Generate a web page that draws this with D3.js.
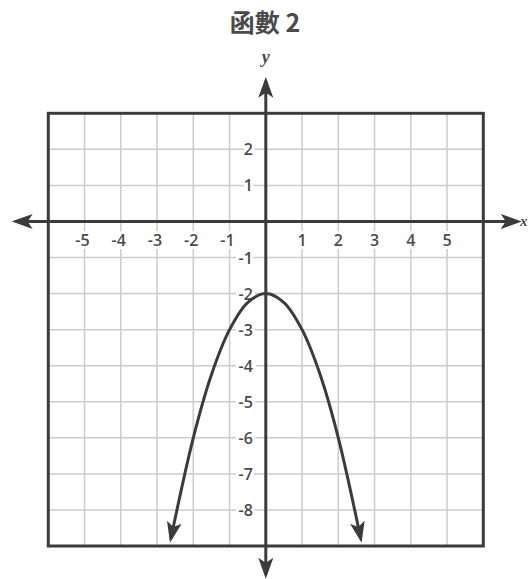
<!DOCTYPE html>
<html>
<head>
<meta charset="utf-8">
<script src="https://cdn.jsdelivr.net/npm/d3@7"></script>
<style>
  body { margin: 0; background: #fff; }
  svg { display: block; }
</style>
</head>
<body>
<svg width="530" height="579"></svg>
<script>
// values
var title = "函數 2";
var xDomain = [-6, 6];
var yDomain = [3, -9];
var xTicks = [-5, -4, -3, -2, -1, 1, 2, 3, 4, 5];
var yTicks = [2, 1, -1, -2, -3, -4, -5, -6, -7, -8];
var xAxisEnds = [-6.9, 6.95];
var yAxisEnds = [3.9, -9.8];
var curveX = [-2.62, -2, -1.5, -1, -0.5, 0, 0.5, 1, 1.5, 2, 2.62];
var curveY = [-8.8, -6, -4.25, -3, -2.25, -2, -2.25, -3, -4.25, -6, -8.8];

var ink = "#3b3b3b",
    gridColor = "#cbcbcb",
    textColor = "#4a4a4a";

var svg = d3.select("svg");

var x = d3.scaleLinear().domain(xDomain).range([48.3, 483.3]);
var y = d3.scaleLinear().domain(yDomain).range([113.3, 546]);

// arrowhead
var defs = svg.append("defs");
defs.append("marker")
    .attr("id", "arrow")
    .attr("markerUnits", "userSpaceOnUse")
    .attr("viewBox", "0 -8 21 16")
    .attr("markerWidth", 21)
    .attr("markerHeight", 16)
    .attr("refX", 17)
    .attr("refY", 0)
    .attr("orient", "auto-start-reverse")
  .append("path")
    .attr("d", "M0,-7.5L21,0L0,7.5L5,0Z")
    .attr("fill", ink);

svg.append("text")
    .attr("x", 265)
    .attr("y", 32)
    .attr("text-anchor", "middle")
    .attr("font-family", "'Noto Sans CJK TC', 'Noto Sans', sans-serif")
    .attr("font-weight", "bold")
    .attr("font-size", 25)
    .attr("fill", textColor)
    .text(title);

// grid
var grid = svg.append("g").attr("stroke", gridColor).attr("stroke-width", 1.5);
grid.selectAll(".gx")
    .data(x.ticks(12).filter(function(d) { return d > xDomain[0] && d < xDomain[1]; }))
    .enter().append("line")
    .attr("x1", function(d) { return x(d); })
    .attr("x2", function(d) { return x(d); })
    .attr("y1", y(yDomain[0]))
    .attr("y2", y(yDomain[1]));
grid.selectAll(".gy")
    .data(y.ticks(12).filter(function(d) { return d < yDomain[0] && d > yDomain[1]; }))
    .enter().append("line")
    .attr("y1", function(d) { return y(d); })
    .attr("y2", function(d) { return y(d); })
    .attr("x1", x(xDomain[0]))
    .attr("x2", x(xDomain[1]));

// tick labels
var labelFont = "'Open Sans', 'Noto Sans', sans-serif";
svg.append("g").selectAll("text")
    .data(xTicks)
    .enter().append("text")
    .attr("x", function(d) { return d < 0 ? x(d) + 5 : x(d); })
    .attr("y", y(0) + 25)
    .attr("text-anchor", function(d) { return d < 0 ? "end" : "middle"; })
    .attr("font-family", labelFont)
    .attr("font-weight", 600)
    .attr("font-size", 16)
    .attr("fill", textColor)
    .attr("stroke", "#fff")
    .attr("stroke-width", 6)
    .attr("paint-order", "stroke")
    .text(function(d) { return d; });

svg.append("g").selectAll("text")
    .data(yTicks)
    .enter().append("text")
    .attr("x", x(0) - 13)
    .attr("y", function(d) { return y(d) + 6; })
    .attr("text-anchor", "end")
    .attr("font-family", labelFont)
    .attr("font-weight", 600)
    .attr("font-size", 16)
    .attr("fill", textColor)
    .attr("stroke", "#fff")
    .attr("stroke-width", 6)
    .attr("paint-order", "stroke")
    .text(function(d) { return d; });

// frame
svg.append("rect")
    .attr("x", x(xDomain[0]))
    .attr("y", y(yDomain[0]))
    .attr("width", x(xDomain[1]) - x(xDomain[0]))
    .attr("height", y(yDomain[1]) - y(yDomain[0]))
    .attr("fill", "none")
    .attr("stroke", ink)
    .attr("stroke-width", 3);

// axes
svg.append("line")
    .attr("x1", x(xAxisEnds[0])).attr("x2", x(xAxisEnds[1]))
    .attr("y1", y(0)).attr("y2", y(0))
    .attr("stroke", ink).attr("stroke-width", 3)
    .attr("marker-start", "url(#arrow)")
    .attr("marker-end", "url(#arrow)");
svg.append("line")
    .attr("x1", x(0)).attr("x2", x(0))
    .attr("y1", y(yAxisEnds[0])).attr("y2", y(yAxisEnds[1]))
    .attr("stroke", ink).attr("stroke-width", 3)
    .attr("marker-start", "url(#arrow)")
    .attr("marker-end", "url(#arrow)");

svg.append("text")
    .attr("x", x(0))
    .attr("y", 63)
    .attr("text-anchor", "middle")
    .attr("font-family", "'Liberation Serif', 'DejaVu Serif', serif")
    .attr("font-style", "italic")
    .attr("font-weight", "bold")
    .attr("font-size", 18)
    .attr("fill", textColor)
    .text("y");
svg.append("text")
    .attr("x", 520)
    .attr("y", y(0) + 5)
    .attr("font-family", "'Liberation Serif', 'DejaVu Serif', serif")
    .attr("font-style", "italic")
    .attr("font-weight", "bold")
    .attr("font-size", 15)
    .attr("fill", textColor)
    .text("x");

// the parabola
var pts = curveX.map(function(v, i) { return [v, curveY[i]]; });
var line = d3.line()
    .x(function(d) { return x(d[0]); })
    .y(function(d) { return y(d[1]); })
    .curve(d3.curveCatmullRom.alpha(0.5));
svg.append("path")
    .datum(pts)
    .attr("d", line)
    .attr("fill", "none")
    .attr("stroke", ink)
    .attr("stroke-width", 3)
    .attr("marker-start", "url(#arrow)")
    .attr("marker-end", "url(#arrow)");
</script>
</body>
</html>
